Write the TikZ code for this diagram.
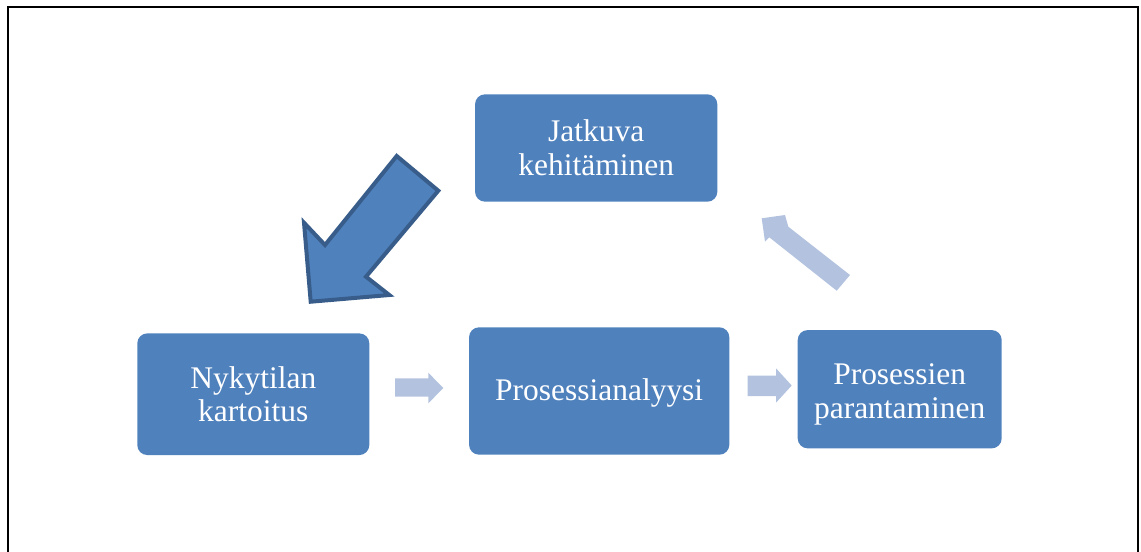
\documentclass[tikz,border=0pt]{standalone}
\usepackage{fontspec}
\setmainfont{Liberation Serif}
\definecolor{boxblue}{HTML}{4F81BD}
\definecolor{darkedge}{HTML}{385D8A}
\definecolor{lightarrow}{HTML}{B3C3DF}
\begin{document}
\begin{tikzpicture}[x=0.75pt,y=-0.75pt,
  stepbox/.style={fill=boxblue, rounded corners=7.5pt, text=white, align=center,
    inner sep=0pt, font=\fontsize{23.6}{25.3}\selectfont},
  steptext/.style={text=white, align=center, inner sep=0pt, font=\fontsize{23.6}{26}\selectfont},
  lightblk/.style={fill=lightarrow, draw=none},
  bigblk/.style={fill=boxblue, draw=darkedge, line width=3pt, line join=miter}]
\useasboundingbox (0,0) rectangle (1141,551);
\draw[line width=1.6pt] (8,560) -- (8,7) -- (1138,7) -- (1138,560);
% boxes
\node[stepbox, minimum width=242.3*0.75pt, minimum height=107.4*0.75pt] (jat) at (596.2,148) {Jatkuva\\kehitäminen};
\node[stepbox, minimum width=232*0.75pt, minimum height=121.7*0.75pt] (nyk) at (253.3,394.2) {Nykytilan\\kartoitus};
\node[stepbox, minimum width=260.3*0.75pt, minimum height=127.4*0.75pt] (ana) at (599.2,391) {};
\node[steptext] (anat) at (599.2,392.5) {Prosessianalyysi};
\node[stepbox, minimum width=204*0.75pt, minimum height=118.3*0.75pt] (par) at (899.7,389.2) {};
\node[steptext] (part) at (899.7,394.5) {Prosessien\\parantaminen};
% light arrows
\fill[lightblk] (395,378.3) -- (428.3,378.3) -- (428.3,372.7) -- (443.3,388) -- (428.3,403.3) -- (428.3,396.7) -- (395,396.7) -- cycle;
\fill[lightblk] (747.7,375.5) -- (776,375.5) -- (776,368.3) -- (791.7,385.5) -- (776,402.7) -- (776,396) -- (747.7,396) -- cycle;
\fill[lightblk] (761.7,218.3) -- (785,215) -- (788.3,226.7) -- (850,275) -- (836.7,290.7) -- (769.3,237.3) -- (765,241.7) -- cycle;
% big arrow
\draw[bigblk] (396.7,156) -- (438.3,190.7) -- (366,276.7) -- (389.3,295) -- (310.7,301.7) -- (304,222.7) -- (325,245) -- cycle;
\end{tikzpicture}
\end{document}
